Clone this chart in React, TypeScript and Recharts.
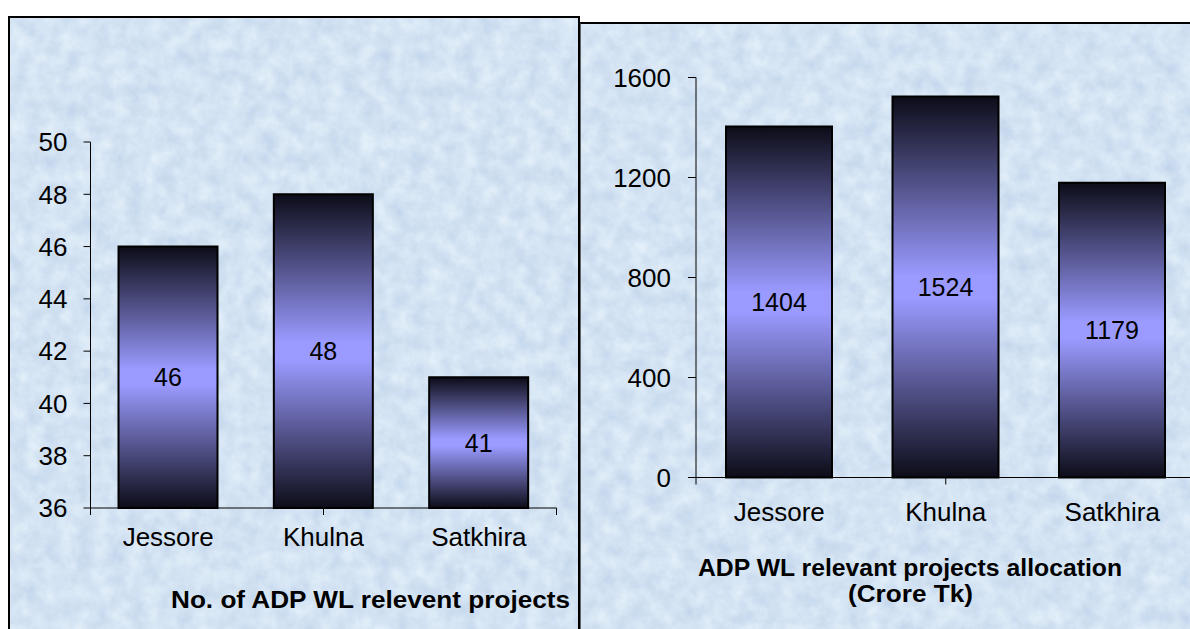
import React from 'react';
import { BarChart, Bar, XAxis, YAxis, LabelList } from 'recharts';

const districts = ['Jessore', 'Khulna', 'Satkhira'];
const projectCounts = [46, 48, 41];
const allocations = [1404, 1524, 1179];
const countTicks = [36, 38, 40, 42, 44, 46, 48, 50];
const allocationTicks = [0, 400, 800, 1200, 1600];
const boundaryTicks = [0, 1, 2, 3];
const leftTitle = 'No. of ADP WL relevent projects';
const rightTitleLines = ['ADP WL relevant projects allocation', '(Crore Tk)'];

const countData = districts.map((d, i) => ({ district: d, value: projectCounts[i] }));
const allocationData = districts.map((d, i) => ({ district: d, value: allocations[i] }));

const FONT = '"Liberation Sans", Arial, Helvetica, sans-serif';
const BG = '#d6e4f4';

const EDGE_AXIS = 1;
const CAT_AXIS = 2;

const Gradient = ({ id }: { id: string }) => (
  <defs>
    <linearGradient id={id} x1="0" y1="0" x2="0" y2="1">
      <stop offset="0" stopColor="#0c0c18" />
      <stop offset="0.47" stopColor="#9a9aff" />
      <stop offset="0.53" stopColor="#9a9aff" />
      <stop offset="1" stopColor="#0c0c18" />
    </linearGradient>
  </defs>
);

const Texture = ({ id, seed }: { id: string; seed: number }) => (
  <svg width="100%" height="100%" style={{ position: 'absolute', left: 0, top: 0 }}>
    <defs>
      <filter id={id} x="0" y="0" width="100%" height="100%" colorInterpolationFilters="sRGB">
        <feTurbulence type="fractalNoise" baseFrequency="0.06" numOctaves={4} seed={seed} />
        <feColorMatrix
          type="matrix"
          values="0.16 0 0 0 0.75  0.13 0 0 0 0.826  0.07 0 0 0 0.918  0 0 0 0 1"
        />
      </filter>
    </defs>
    <rect width="100%" height="100%" fill={BG} />
    <rect width="100%" height="100%" filter={`url(#${id})`} />
  </svg>
);

const tickStyle = { fill: '#000', fontSize: 26, fontFamily: FONT };

export default function App() {
  return (
    <div
      style={{
        position: 'absolute',
        left: 0,
        top: 0,
        width: 1190,
        height: 629,
        overflow: 'hidden',
        background: '#fff',
        fontFamily: FONT,
      }}
    >
      {/* right panel */}
      <div
        style={{
          position: 'absolute',
          left: 579,
          top: 22,
          width: 700,
          height: 700,
          boxSizing: 'border-box',
          borderTop: '2px solid #000',
          borderLeft: '2px solid #666',
          background: BG,
          overflow: 'hidden',
        }}
      >
        <Texture id="texRight" seed={7} />
      </div>
      {/* left panel */}
      <div
        style={{
          position: 'absolute',
          left: 8,
          top: 16,
          width: 572,
          height: 700,
          boxSizing: 'border-box',
          border: '2px solid #000',
          background: BG,
          overflow: 'hidden',
        }}
      >
        <Texture id="texLeft" seed={3} />
      </div>

      {/* left chart */}
      <div style={{ position: 'absolute', left: 0, top: 0 }}>
        <BarChart
          width={580}
          height={629}
          data={countData}
          margin={{ top: 142, right: 23.5, bottom: 80, left: 0 }}
        >
          <Gradient id="gradLeft" />
          <XAxis
            xAxisId={EDGE_AXIS}
            type="number"
            domain={[0, 3]}
            ticks={boundaryTicks}
            allowDataOverflow
            height={1}
            tickSize={7}
            tickFormatter={() => ''}
            stroke="#000"
          />
          <XAxis
            xAxisId={CAT_AXIS}
            dataKey="district"
            axisLine={false}
            tickLine={false}
            tickSize={0}
            tickMargin={19}
            height={40}
            tick={tickStyle}
            interval={0}
          />
          <YAxis
            type="number"
            domain={[36, 50]}
            ticks={countTicks}
            interval={0}
            width={90.5}
            tickSize={7}
            tickMargin={16}
            stroke="#000"
            tick={tickStyle}
          />
          <Bar
            xAxisId={CAT_AXIS}
            dataKey="value"
            barSize={99}
            fill="url(#gradLeft)"
            stroke="#000"
            strokeWidth={2}
            isAnimationActive={false}
          >
            <LabelList dataKey="value" position="center" fill="#000" fontSize={25} fontFamily={FONT} />
          </Bar>
        </BarChart>
      </div>

      {/* right chart */}
      <div style={{ position: 'absolute', left: 580, top: 0 }}>
        <BarChart
          width={620}
          height={629}
          data={allocationData}
          margin={{ top: 77.5, right: 4.5, bottom: 110.5, left: 0 }}
        >
          <Gradient id="gradRight" />
          <XAxis
            xAxisId={EDGE_AXIS}
            type="number"
            domain={[0, 3]}
            ticks={boundaryTicks}
            allowDataOverflow
            height={1}
            tickSize={7}
            tickFormatter={() => ''}
            stroke="#000"
          />
          <XAxis
            xAxisId={CAT_AXIS}
            dataKey="district"
            axisLine={false}
            tickLine={false}
            tickSize={0}
            tickMargin={24}
            height={40}
            tick={tickStyle}
            interval={0}
          />
          <YAxis
            type="number"
            domain={[0, 1600]}
            ticks={allocationTicks}
            interval={0}
            width={116}
            tickSize={8}
            tickMargin={17}
            stroke="#000"
            tick={tickStyle}
          />
          <Bar
            xAxisId={CAT_AXIS}
            dataKey="value"
            barSize={106}
            fill="url(#gradRight)"
            stroke="#000"
            strokeWidth={2}
            isAnimationActive={false}
          >
            <LabelList dataKey="value" position="center" fill="#000" fontSize={25} fontFamily={FONT} />
          </Bar>
        </BarChart>
      </div>

      {/* titles */}
      <svg
        width={1190}
        height={629}
        style={{ position: 'absolute', left: 0, top: 0, pointerEvents: 'none' }}
      >
        <text
          x={370.5}
          y={608}
          textAnchor="middle"
          fontFamily={FONT}
          fontWeight="bold"
          fontSize={23}
          textLength={399}
          lengthAdjust="spacingAndGlyphs"
          fill="#000"
        >
          {leftTitle}
        </text>
        <text
          x={910}
          y={576}
          textAnchor="middle"
          fontFamily={FONT}
          fontWeight="bold"
          fontSize={23.5}
          textLength={424}
          lengthAdjust="spacingAndGlyphs"
          fill="#000"
        >
          {rightTitleLines[0]}
        </text>
        <text
          x={910.5}
          y={602}
          textAnchor="middle"
          fontFamily={FONT}
          fontWeight="bold"
          fontSize={23.5}
          textLength={125}
          lengthAdjust="spacingAndGlyphs"
          fill="#000"
        >
          {rightTitleLines[1]}
        </text>
      </svg>
    </div>
  );
}
